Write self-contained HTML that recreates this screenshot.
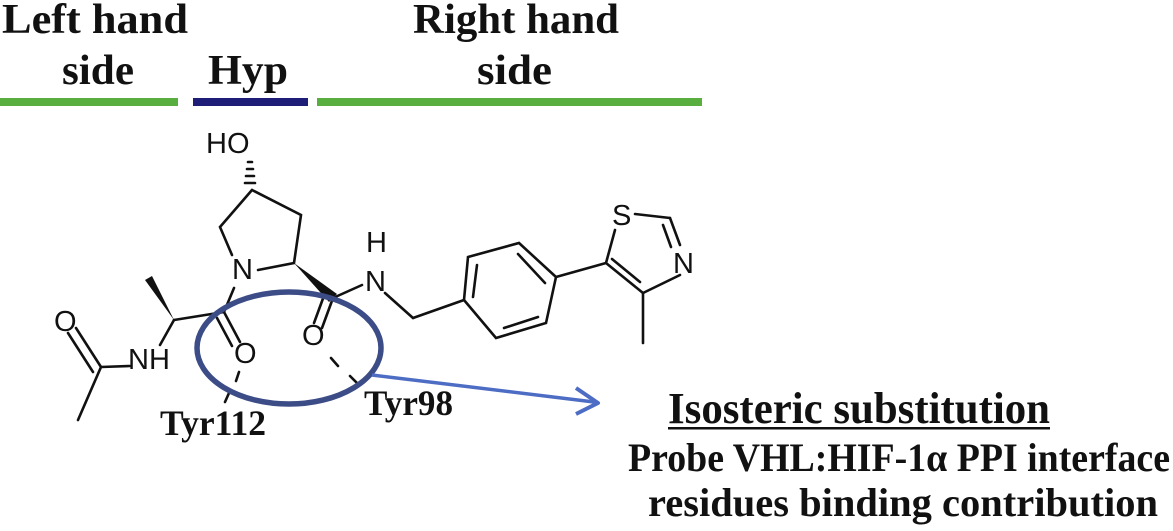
<!DOCTYPE html>
<html><head><meta charset="utf-8"><style>
html,body{margin:0;padding:0;background:#fff;}
svg{display:block}
text{font-family:"Liberation Serif","Times New Roman",serif;font-weight:bold;fill:#111}
.a{font-family:"Liberation Sans",sans-serif;font-weight:normal;font-size:29px}
</style></head><body>
<svg width="1173" height="531" viewBox="0 0 1173 531" xmlns="http://www.w3.org/2000/svg">
<text x="2" y="33" font-size="42" textLength="186" lengthAdjust="spacingAndGlyphs">Left hand</text>
<text x="62" y="84" font-size="42" textLength="72" lengthAdjust="spacingAndGlyphs">side</text>
<text x="208" y="84" font-size="42" textLength="80" lengthAdjust="spacingAndGlyphs">Hyp</text>
<text x="413" y="33" font-size="42" textLength="206" lengthAdjust="spacingAndGlyphs">Right hand</text>
<text x="477" y="84" font-size="42" textLength="75" lengthAdjust="spacingAndGlyphs">side</text>
<rect x="0" y="98" width="178" height="8" fill="#58ae3f"/>
<rect x="193" y="98" width="115" height="8" fill="#1e1e78"/>
<rect x="317" y="98" width="385" height="8" fill="#58ae3f"/>

<g stroke="#111" stroke-width="2.6" fill="none" stroke-linecap="round">
<line x1="248" y1="162" x2="252" y2="162"/>
<line x1="247" y1="169" x2="253" y2="169"/>
<line x1="246" y1="176" x2="254" y2="176"/>
<line x1="245" y1="183" x2="255" y2="183"/>
<polyline points="252,190 301,215 294,263 258,270"/>
<polyline points="252,190 220,227 232,255"/>
<line x1="234" y1="288" x2="224" y2="312"/>
<line x1="224" y1="312" x2="174" y2="320"/>
<line x1="224" y1="312" x2="240" y2="342"/>
<line x1="217" y1="318" x2="232" y2="346"/>
<line x1="174" y1="320" x2="160" y2="345"/>
<line x1="130" y1="366" x2="101" y2="367"/>
<line x1="101" y1="367" x2="78" y2="420"/>
<line x1="101" y1="367" x2="76" y2="328"/>
<line x1="93" y1="372" x2="68" y2="333"/>
<line x1="333" y1="298" x2="322" y2="328"/>
<line x1="325" y1="293" x2="314" y2="323"/>
<line x1="333" y1="298" x2="362" y2="285"/>
<line x1="385" y1="293" x2="413" y2="318"/>
<line x1="413" y1="318" x2="464" y2="300"/>
<polygon points="464,300 496,338 546,323 556,277 519,243 468,257"/>
<line x1="504" y1="328" x2="538" y2="317"/>
<line x1="545" y1="283" x2="518" y2="254"/>
<line x1="477" y1="265" x2="473" y2="297"/>
<line x1="556" y1="277" x2="606" y2="263"/>
<line x1="606" y1="263" x2="615" y2="230"/>
<line x1="635" y1="214" x2="670" y2="218"/>
<line x1="670" y1="218" x2="680" y2="245"/>
<line x1="663" y1="225" x2="671" y2="247"/>
<line x1="680" y1="275" x2="643" y2="293"/>
<line x1="643" y1="293" x2="606" y2="263"/>
<line x1="640" y1="282" x2="612" y2="259"/>
<line x1="643" y1="293" x2="643" y2="343"/>
<line x1="239" y1="372" x2="236" y2="381" />
<line x1="229" y1="393" x2="225" y2="402"/>
<line x1="331" y1="358" x2="338" y2="366"/>
<line x1="350" y1="376" x2="357" y2="383"/>
</g>
<polygon points="294,263 329,302 337,294" fill="#111"/>
<polygon points="174,320 145,280 152,276" fill="#111"/>
<text class="a" x="206" y="153">HO</text>
<text class="a" x="232" y="279">N</text>
<text class="a" x="366" y="252">H</text>
<text class="a" x="365" y="291">N</text>
<text class="a" x="128" y="369">NH</text>
<text class="a" x="54" y="331">O</text>
<text class="a" x="234" y="363">O</text>
<text class="a" x="302" y="345">O</text>
<text class="a" x="612" y="225">S</text>
<text class="a" x="673" y="273">N</text>
<text x="160" y="435" font-size="36" textLength="106" lengthAdjust="spacingAndGlyphs">Tyr112</text>
<text x="364" y="415" font-size="36" textLength="89" lengthAdjust="spacingAndGlyphs">Tyr98</text>
<ellipse cx="289" cy="348" rx="92" ry="56" fill="none" stroke="#3c4c86" stroke-width="5.5"/>
<line x1="372" y1="375" x2="594" y2="402" stroke="#4d6cc4" stroke-width="3.5"/>
<polyline points="576,388 598,403 576,414" fill="none" stroke="#4d6cc4" stroke-width="4" stroke-linejoin="round"/>
<text x="668" y="423" font-size="44" textLength="382" lengthAdjust="spacingAndGlyphs">Isosteric substitution</text>
<rect x="668" y="427" width="382" height="2.5" fill="#111"/>
<text x="628" y="471" font-size="40" textLength="542" lengthAdjust="spacingAndGlyphs">Probe VHL:HIF-1α PPI interface</text>
<text x="648" y="516" font-size="40" textLength="510" lengthAdjust="spacingAndGlyphs">residues binding contribution</text>
</svg>
</body></html>
